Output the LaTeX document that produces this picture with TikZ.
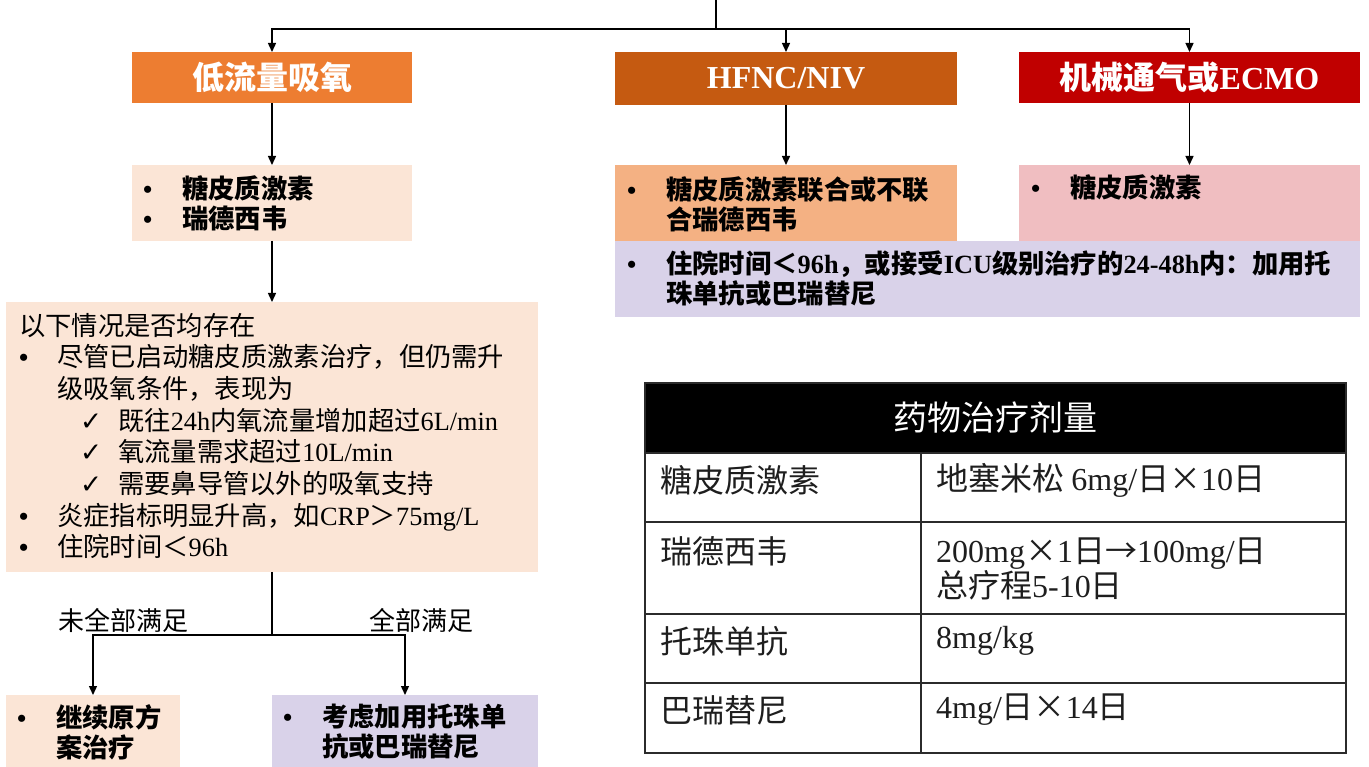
\documentclass[tikz,border=0pt]{standalone}
\usepackage{fontspec}
\setmainfont{Noto Sans CJK SC}
\newfontfamily\lat{Liberation Serif}
\newfontfamily\sym{DejaVu Sans}
\usetikzlibrary{arrows.meta}
\newcommand\E[1]{{\lat #1}}
\newcommand\bul{\makebox[39pt][l]{\lat •}}
\newcommand\pbul{\makebox[38pt][l]{\lat\bfseries •}}
\newcommand\ind{\hspace*{39pt}}
\newcommand\chk{\hspace*{61pt}\makebox[38pt][l]{\sym ✓}}
\definecolor{cLow}{HTML}{ED7D31}
\definecolor{cHf}{HTML}{C55A11}
\definecolor{cMv}{HTML}{C00000}
\definecolor{cPeach}{HTML}{FBE5D6}
\definecolor{cOrl}{HTML}{F4B183}
\definecolor{cPink}{HTML}{F0BEC1}
\definecolor{cLav}{HTML}{D9D2E9}
\definecolor{cGrid}{HTML}{2B2B2B}
\definecolor{cTxt}{HTML}{1E1E1E}
\begin{document}
\begin{tikzpicture}[x=1pt,y=-1pt,
  box/.style={anchor=north west, inner sep=0pt, outer sep=0pt, draw=none},
  head/.style={box, text=white, font=\fontsize{32}{36}\selectfont\bfseries},
  txt/.style={anchor=west, inner sep=0pt, align=left, font=\fontsize{26.3}{30}\selectfont\bfseries},
  plain/.style={anchor=west, inner sep=0pt, align=left, font=\fontsize{26.3}{31.7}\selectfont},
  tab/.style={anchor=west, inner sep=0pt, align=left, text=cTxt, font=\fontsize{32}{35}\selectfont},
  arr/.style={-{Triangle[length=9pt,width=8pt]}, line width=1.4pt},
  ln/.style={line width=1.4pt},
  grid/.style={line width=1.8pt, draw=cGrid}]
\useasboundingbox (0,0) rectangle (1369,767);
\fill[white] (0,0) rectangle (1369,767);

% level 1
\node[head, fill=cLow, minimum width=280pt, minimum height=51pt] (low) at (132,52) {低流量吸氧};
\node[head, fill=cHf, minimum width=342pt, minimum height=53pt] (hf) at (615,52) {\E{HFNC/NIV}};
\node[head, fill=cMv, minimum width=341pt, minimum height=51pt] (mv) at (1019,52) {机械通气或\E{ECMO}};

% level 2
\node[box, fill=cPeach, minimum width=280pt, minimum height=76pt] (lowb) at (132,165) {};
\node[box, fill=cOrl, minimum width=342pt, minimum height=76pt] (hfb) at (615,165) {};
\node[box, fill=cPink, minimum width=341pt, minimum height=76pt] (mvb) at (1019,165) {};
\node[box, fill=cLav, minimum width=745pt, minimum height=76pt] (toc) at (615,241) {};

\node[txt] (lowbt) at (143,203) {\bul 糖皮质激素\\ \bul 瑞德西韦};
\node[txt] (hfbt) at (627,204) {\bul 糖皮质激素联合或不联\\ \ind 合瑞德西韦};
\node[txt] (mvbt) at (1031,187) {\bul 糖皮质激素};
\node[txt] (toct) at (627,279) {\bul 住院时间＜\E{96h}，或接受\E{ICU}级别治疗的\E{24-48h}内：加用托\\ \ind 珠单抗或巴瑞替尼};

% big condition box
\node[box, fill=cPeach, minimum width=532pt, minimum height=270pt] (big) at (6,302) {};
\node[plain] (bigt) at (19,436) {以下情况是否均存在\\
\pbul 尽管已启动糖皮质激素治疗，但仍需升\\
\hspace*{38pt}级吸氧条件，表现为\\
\chk 既往\E{24h}内氧流量增加超过\E{6L/min}\\
\chk 氧流量需求超过\E{10L/min}\\
\chk 需要鼻导管以外的吸氧支持\\
\pbul 炎症指标明显升高，如\E{CRP}＞\E{75mg/L}\\
\pbul 住院时间＜\E{96h}};

% outcomes
\node[box, fill=cPeach, minimum width=174pt, minimum height=72pt] (cont) at (6,695) {};
\node[box, fill=cLav, minimum width=266pt, minimum height=72pt] (add) at (272,695) {};
\node[txt] (contt) at (17,732) {\bul 继续原方\\ \ind 案治疗};
\node[txt] (addt) at (283,732) {\bul 考虑加用托珠单\\ \ind 抗或巴瑞替尼};

\node[font=\fontsize{26}{30}\selectfont, inner sep=0pt] (lno) at (123,620) {未全部满足};
\node[font=\fontsize{26}{30}\selectfont, inner sep=0pt] (lyes) at (421,620) {全部满足};

% connectors
\coordinate (top) at (716,0);
\coordinate (hub) at (716,29);
\draw[ln] (top) -- (hub);
\draw[arr] (hub) -| (low.north);
\draw[arr] (hub) -| (hf.north);
\draw[arr] (hub) -| (mv.north);
\draw[arr] (low.south) -- (lowb.north);
\draw[arr] (hf.south) -- (hfb.north);
\draw[arr] (mv.south) -- (mvb.north);
\draw[arr] (lowb.south) -- (big.north);
\coordinate (split) at (272,635);
\draw[ln] (big.south) -- (split);
\draw[arr] (split) -| (cont.north);
\draw[arr] (split) -| (add.north);

% dosage table
\node[box, fill=black, minimum width=701pt, minimum height=70pt] (thead) at (645,383) {};
\node[font=\fontsize{34}{38}\selectfont, text=white, inner sep=0pt] (theadt) at (thead.center) {药物治疗剂量};
\draw[grid] (645,383) rectangle (1346,753);
\draw[grid] (645,453) -- (1346,453);
\draw[grid] (645,522) -- (1346,522);
\draw[grid] (645,614) -- (1346,614);
\draw[grid] (645,683) -- (1346,683);
\draw[grid] (921,453) -- (921,753);
\node[tab] (r1a) at (660,480) {糖皮质激素};
\node[tab] (r1b) at (936,480) {地塞米松 \E{6mg/}日×\E{10}日};
\node[tab] (r2a) at (660,551) {瑞德西韦};
\node[tab] (r2b) at (936,569) {\E{200mg}×\E{1}日→\E{100mg/}日\\ 总疗程\E{5-10}日};
\node[tab] (r3a) at (660,641) {托珠单抗};
\node[tab] (r3b) at (936,641) {\E{8mg/kg}};
\node[tab] (r4a) at (660,710) {巴瑞替尼};
\node[tab] (r4b) at (936,710) {\E{4mg/}日×\E{14}日};
\end{tikzpicture}
\end{document}
